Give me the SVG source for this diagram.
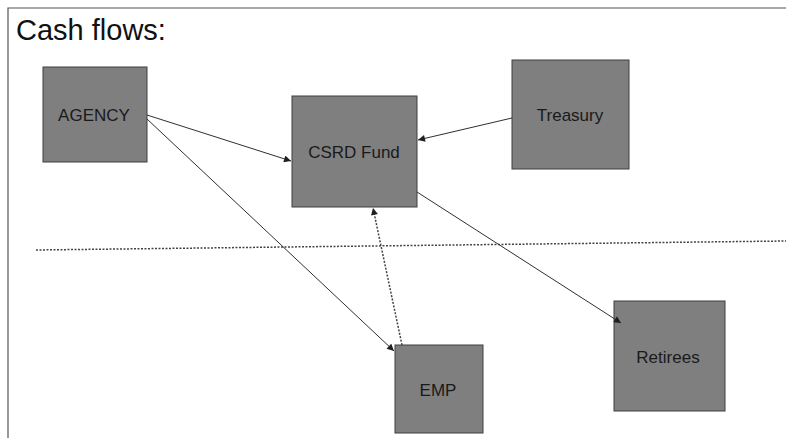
<svg xmlns="http://www.w3.org/2000/svg" width="786" height="438" viewBox="0 0 786 438">
  <style>
    .node rect { fill: #7f7f7f; stroke: #3f3f3f; stroke-width: 1; }
    .node text { font-family: "Liberation Sans", Arial, sans-serif; font-size: 17px; fill: #1a1a1a; text-anchor: middle; dominant-baseline: central; }
    .edge { stroke: #303030; stroke-width: 1; fill: none; }
    .dot { stroke-dasharray: 2 1.5; stroke-width: 1.5; stroke: #444; }
    .title { font-family: "Liberation Sans", Arial, sans-serif; font-size: 29px; fill: #111; }
  </style>
  <defs>
    <marker id="arrow" viewBox="0 0 10 10" refX="10" refY="5" markerWidth="8" markerHeight="7" markerUnits="userSpaceOnUse" orient="auto">
      <path d="M0,0 L10,5 L0,10 z" fill="#202020"/>
    </marker>
  </defs>
  <rect x="0" y="0" width="786" height="438" fill="#ffffff"/>
  <path d="M8,438 L8,8 L786,8" fill="none" stroke="#555" stroke-width="1.2"/>
  <text class="title" x="16" y="40">Cash flows:</text>

  <line x1="36" y1="250" x2="786" y2="241" class="edge dot" stroke-width="1.2"/>

  <g id="agency" class="node">
    <rect x="43" y="67" width="104" height="95"/>
    <text x="94" y="115">AGENCY</text>
  </g>
  <g id="csrd" class="node">
    <rect x="292" y="96" width="125" height="111"/>
    <text x="354" y="152">CSRD Fund</text>
  </g>
  <g id="treasury" class="node">
    <rect x="512" y="60" width="117" height="109"/>
    <text x="570" y="115">Treasury</text>
  </g>
  <g id="emp" class="node">
    <rect x="395" y="345" width="88" height="88"/>
    <text x="438" y="390">EMP</text>
  </g>
  <g id="retirees" class="node">
    <rect x="614" y="301" width="111" height="110"/>
    <text x="668" y="357">Retirees</text>
  </g>

  <g id="connectors">
    <line class="edge" x1="147" y1="115" x2="291" y2="161" marker-end="url(#arrow)"/>
    <line class="edge" x1="147" y1="119" x2="394" y2="351" marker-end="url(#arrow)"/>
    <line class="edge" x1="512" y1="118" x2="418" y2="140" marker-end="url(#arrow)"/>
    <line class="edge dot" x1="402" y1="345" x2="373" y2="208" marker-end="url(#arrow)"/>
    <line class="edge" x1="417" y1="192" x2="621" y2="323" marker-end="url(#arrow)"/>
  </g>
</svg>
